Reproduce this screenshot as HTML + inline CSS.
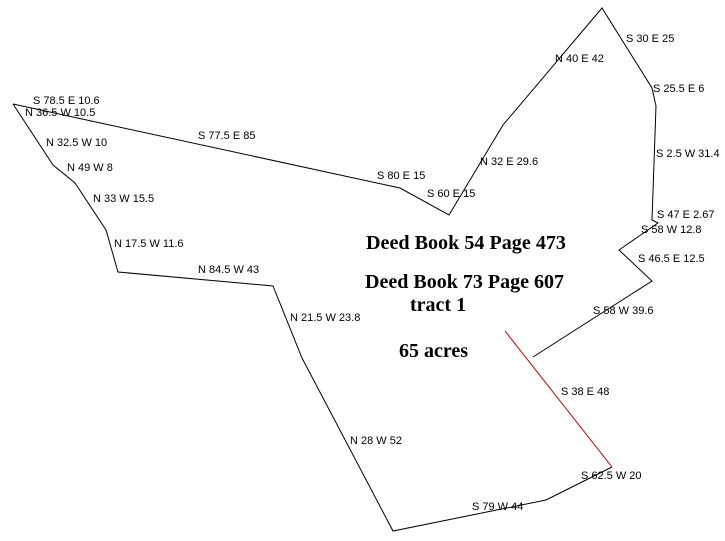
<!DOCTYPE html>
<html><head><style>
html,body{margin:0;padding:0;background:#fff;width:725px;height:541px;overflow:hidden}
svg text{font-family:"Liberation Sans",sans-serif;font-size:11px;fill:#000}
svg text.b{font-family:"Liberation Serif",serif;font-size:20px;font-weight:bold}
</style></head><body>
<svg width="725" height="541" viewBox="0 0 725 541">
<polyline fill="none" stroke="#000" stroke-width="1" points="13,104 400,188 449,215 503,125 602,8 652,88 656,106 652,220 658,223 619,250 652,281 533,357"/>
<polyline fill="none" stroke="#000" stroke-width="1" points="612,467 546,500 393,531 302,358 273,286 118,272 106,230 75,183 53,165 13,104"/>
<line x1="505" y1="331" x2="612" y2="467" stroke="#c00000" stroke-width="1"/>
<text x="33" y="104">S 78.5 E 10.6</text>
<text x="25" y="116">N 36.5 W 10.5</text>
<text x="46" y="146">N 32.5 W 10</text>
<text x="67" y="171">N 49 W 8</text>
<text x="93" y="202">N 33 W 15.5</text>
<text x="114" y="247">N 17.5 W 11.6</text>
<text x="198" y="273">N 84.5 W 43</text>
<text x="198" y="139">S 77.5 E 85</text>
<text x="377" y="179">S 80 E 15</text>
<text x="427" y="197">S 60 E 15</text>
<text x="480" y="165">N 32 E 29.6</text>
<text x="555" y="62">N 40 E 42</text>
<text x="626" y="42">S 30 E 25</text>
<text x="653" y="92">S 25.5 E 6</text>
<text x="656" y="157">S 2.5 W 31.4</text>
<text x="657" y="218">S 47 E 2.67</text>
<text x="641" y="233">S 58 W 12.8</text>
<text x="638" y="262">S 46.5 E 12.5</text>
<text x="593" y="314">S 58 W 39.6</text>
<text x="290" y="321">N 21.5 W 23.8</text>
<text x="350" y="444">N 28 W 52</text>
<text x="561" y="395">S 38 E 48</text>
<text x="581" y="479">S 62.5 W 20</text>
<text x="472" y="510">S 79 W 44</text>
<text class="b" x="366" y="249" textLength="200" lengthAdjust="spacingAndGlyphs">Deed Book 54 Page 473</text>
<text class="b" x="365" y="288" textLength="199" lengthAdjust="spacingAndGlyphs">Deed Book 73 Page 607</text>
<text class="b" x="410" y="311">tract 1</text>
<text class="b" x="399" y="357">65 acres</text>
</svg>
</body></html>
